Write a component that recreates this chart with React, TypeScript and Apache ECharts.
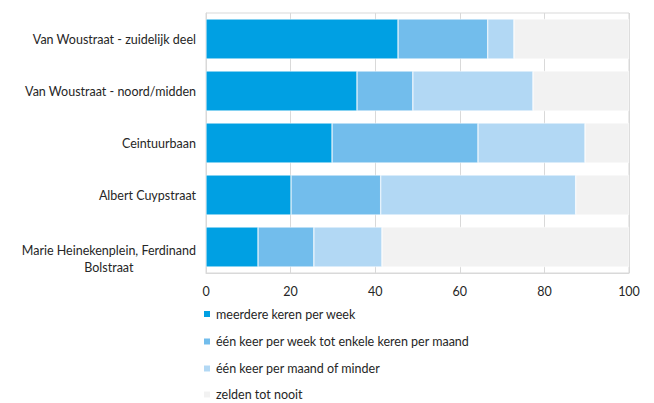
import React, { useEffect, useRef } from "react";
import * as echarts from "echarts";

const categories = [
  "Van Woustraat - zuidelijk deel",
  "Van Woustraat - noord/midden",
  "Ceintuurbaan",
  "Albert Cuypstraat",
  "Marie Heinekenplein, Ferdinand Bolstraat",
];
const seriesNames = [
  "meerdere keren per week",
  "één keer per week tot enkele keren per maand",
  "één keer per maand of minder",
  "zelden tot nooit",
];
const meerdereKeren = [45.4, 35.7, 29.8, 20.1, 12.3];
const eenKeerPerWeek = [21.2, 13.2, 34.5, 21.2, 13.2];
const eenKeerPerMaand = [6.2, 28.4, 25.3, 46.1, 16.1];
const zelden = [27.2, 22.7, 10.4, 12.6, 58.4];
const xTicks = [0, 20, 40, 60, 80, 100];

const colors = ["#00A0E3", "#72BDEC", "#B2D8F4", "#F2F2F2"];
const FONT = "Lato";
const FS = 12.5;

export default function App() {
  const ref = useRef<HTMLDivElement>(null);
  useEffect(() => {
    if (!ref.current) return;
    const chart = echarts.init(ref.current, null, { renderer: "svg" });
    const values = [meerdereKeren, eenKeerPerWeek, eenKeerPerMaand, zelden];
    const legendTops = [307.5, 335, 362, 388];
    chart.setOption({
      animation: false,
      textStyle: { fontFamily: FONT },
      grid: {
        left: 206,
        right: 25,
        top: 13,
        bottom: 130,
        containLabel: false,
        show: true,
        borderColor: "#d9d9d9",
        borderWidth: 1,
      },
      legend: seriesNames.map((name, i) => ({
        orient: "vertical",
        left: 202,
        top: legendTops[i],
        padding: 0,
        itemWidth: 8,
        itemHeight: 8,
        icon: "rect",
        data: [name],
        textStyle: { fontFamily: FONT, fontSize: FS, color: "#262626" },
      })),
      xAxis: {
        type: "value",
        min: xTicks[0],
        max: xTicks[xTicks.length - 1],
        interval: 20,
        axisLine: { show: true, lineStyle: { color: "#d9d9d9" } },
        axisTick: { show: false },
        splitLine: { show: true, lineStyle: { color: "#d9d9d9", width: 1 } },
        axisLabel: { color: "#262626", fontSize: FS, fontFamily: FONT, margin: 12 },
      },
      yAxis: {
        type: "category",
        data: categories,
        inverse: true,
        axisLine: { show: true, lineStyle: { color: "#d9d9d9" } },
        axisTick: { show: false },
        splitLine: { show: false },
        axisLabel: {
          color: "#262626",
          fontSize: FS,
          fontFamily: FONT,
          margin: 10,
          formatter: (v: string) => {
            if (v.includes(", ")) {
              const parts = v.split(", ");
              return `{s| }\n{m|${parts[0]}, ${parts[1].split(" ")[0]}}\n{m|${parts[1].split(" ").slice(1).join(" ")}}`;
            }
            return v;
          },
          rich: {
            s: { lineHeight: 24, fontSize: FS, fontFamily: FONT },
            m: { align: "center", lineHeight: 16.5, fontSize: FS, fontFamily: FONT, color: "#262626" },
          },
        },
      },
      series: seriesNames.map((name, i) => ({
        name,
        type: "bar",
        stack: "total",
        data: values[i],
        barCategoryGap: "23%",
        itemStyle: { color: colors[i], borderColor: "#ffffff", borderWidth: 0.5 },
        emphasis: { disabled: true },
      })),
    });
    return () => chart.dispose();
  }, []);
  return <div ref={ref} style={{ width: 654, height: 403, position: "absolute", left: 0, top: 0 }} />;
}
